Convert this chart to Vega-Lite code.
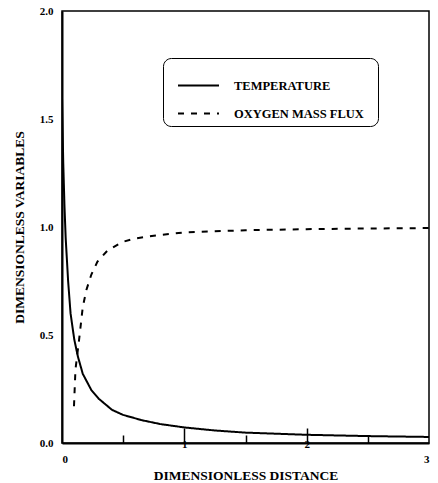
{
  "$schema": "https://vega.github.io/schema/vega-lite/v6.json",
  "width": 367,
  "height": 432,
  "autosize": "none",
  "padding": {"top": 11, "left": 62, "right": 9, "bottom": 40},
  "background": "white",
  "config": {
    "font": "Liberation Serif",
    "view": {"stroke": "black", "strokeWidth": 1.5},
    "axis": {
      "domainColor": "black",
      "domainWidth": 2,
      "labelFont": "Liberation Serif",
      "labelFontWeight": "bold",
      "labelColor": "black",
      "labelFontSize": 11,
      "titleFont": "Liberation Serif",
      "titleFontWeight": "bold",
      "titleColor": "black",
      "titleFontSize": 13.5,
      "grid": false
    }
  },
  "data": {
    "values": [
      {"x": 0.0, "y": 1.6, "s": "TEMPERATURE"},
      {"x": 0.005, "y": 1.45, "s": "TEMPERATURE"},
      {"x": 0.01, "y": 1.3, "s": "TEMPERATURE"},
      {"x": 0.02, "y": 1.1, "s": "TEMPERATURE"},
      {"x": 0.03, "y": 0.95, "s": "TEMPERATURE"},
      {"x": 0.05, "y": 0.75, "s": "TEMPERATURE"},
      {"x": 0.07, "y": 0.6, "s": "TEMPERATURE"},
      {"x": 0.1, "y": 0.48, "s": "TEMPERATURE"},
      {"x": 0.13, "y": 0.4, "s": "TEMPERATURE"},
      {"x": 0.17, "y": 0.32, "s": "TEMPERATURE"},
      {"x": 0.24, "y": 0.245, "s": "TEMPERATURE"},
      {"x": 0.3, "y": 0.205, "s": "TEMPERATURE"},
      {"x": 0.41, "y": 0.153, "s": "TEMPERATURE"},
      {"x": 0.5, "y": 0.13, "s": "TEMPERATURE"},
      {"x": 0.65, "y": 0.106, "s": "TEMPERATURE"},
      {"x": 0.8, "y": 0.088, "s": "TEMPERATURE"},
      {"x": 1.0, "y": 0.072, "s": "TEMPERATURE"},
      {"x": 1.25, "y": 0.058, "s": "TEMPERATURE"},
      {"x": 1.5, "y": 0.048, "s": "TEMPERATURE"},
      {"x": 2.0, "y": 0.038, "s": "TEMPERATURE"},
      {"x": 2.5, "y": 0.032, "s": "TEMPERATURE"},
      {"x": 3.0, "y": 0.028, "s": "TEMPERATURE"},
      {"x": 0.098, "y": 0.17, "s": "OXYGEN MASS FLUX"},
      {"x": 0.11, "y": 0.34, "s": "OXYGEN MASS FLUX"},
      {"x": 0.14, "y": 0.48, "s": "OXYGEN MASS FLUX"},
      {"x": 0.17, "y": 0.63, "s": "OXYGEN MASS FLUX"},
      {"x": 0.2, "y": 0.71, "s": "OXYGEN MASS FLUX"},
      {"x": 0.24, "y": 0.78, "s": "OXYGEN MASS FLUX"},
      {"x": 0.29, "y": 0.84, "s": "OXYGEN MASS FLUX"},
      {"x": 0.37, "y": 0.89, "s": "OXYGEN MASS FLUX"},
      {"x": 0.49, "y": 0.93, "s": "OXYGEN MASS FLUX"},
      {"x": 0.58, "y": 0.945, "s": "OXYGEN MASS FLUX"},
      {"x": 0.75, "y": 0.96, "s": "OXYGEN MASS FLUX"},
      {"x": 1.0, "y": 0.975, "s": "OXYGEN MASS FLUX"},
      {"x": 1.5, "y": 0.985, "s": "OXYGEN MASS FLUX"},
      {"x": 2.0, "y": 0.99, "s": "OXYGEN MASS FLUX"},
      {"x": 2.5, "y": 0.993, "s": "OXYGEN MASS FLUX"},
      {"x": 3.0, "y": 0.995, "s": "OXYGEN MASS FLUX"}
    ]
  },
  "mark": {"type": "line", "color": "black", "strokeWidth": 2, "clip": true},
  "encoding": {
    "x": {
      "field": "x",
      "type": "quantitative",
      "scale": {"domain": [0, 3], "nice": false},
      "axis": {
        "title": "DIMENSIONLESS DISTANCE",
        "values": [0, 0.5, 1, 1.5, 2, 2.5, 3],
        "labelExpr": "datum.value % 1 === 0 ? format(datum.value, 'd') : ''",
        "tickColor": "black",
        "tickWidth": 1.5,
        "tickSize": {"expr": "datum.value === 0 || datum.value === 3 ? 0 : (datum.value % 1 === 0 ? -15 : -8)"},
        "labelPadding": 10,
        "titlePadding": 4
      }
    },
    "y": {
      "field": "y",
      "type": "quantitative",
      "scale": {"domain": [0, 2], "nice": false},
      "axis": {
        "title": "DIMENSIONLESS VARIABLES",
        "values": [0, 0.5, 1, 1.5, 2],
        "format": ".1f",
        "ticks": false,
        "labelPadding": 9,
        "titlePadding": 13
      }
    },
    "strokeDash": {
      "field": "s",
      "type": "nominal",
      "scale": {"domain": ["TEMPERATURE", "OXYGEN MASS FLUX"], "range": [[1, 0], [6, 7]]},
      "legend": {
        "title": " ",
        "titleOrient": "right",
        "titlePadding": 8,
        "titleFontSize": 4,
        "orient": "none",
        "legendX": 101,
        "legendY": 47,
        "strokeColor": "black",
        "cornerRadius": 8,
        "padding": 6,
        "symbolOffset": 8,
        "symbolType": "stroke",
        "symbolSize": 1681,
        "symbolStrokeWidth": 2,
        "symbolStrokeColor": "black",
        "labelFont": "Liberation Serif",
        "labelFontWeight": "bold",
        "labelFontSize": 12.5,
        "labelColor": "black",
        "labelOffset": 14,
        "rowPadding": -12,
        "labelLimit": 300
      }
    }
  }
}
